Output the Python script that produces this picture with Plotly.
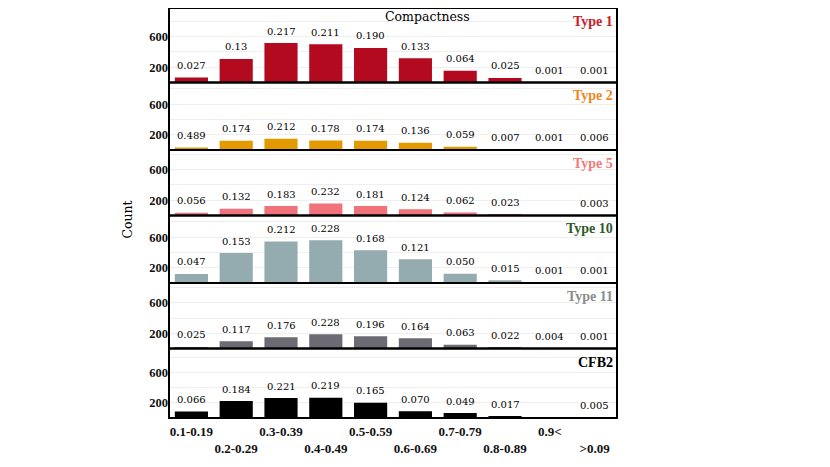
import plotly.graph_objects as go
from plotly.subplots import make_subplots

# compactness bins (ranges as printed on the chart)
bins = ["0.1-0.19", "0.2-0.29", "0.3-0.39", "0.4-0.49", "0.5-0.59",
        "0.6-0.69", "0.7-0.79", "0.8-0.89", "0.9&lt;", "&gt;0.09"]

types = ["Type 1", "Type 2", "Type 5", "Type 10", "Type 11", "CFB2"]

# counts
type1_counts = [64, 309, 516, 502, 452, 316, 152, 59, 2, 2]
type2_counts = [33, 121, 147, 123, 121, 94, 41, 5, 1, 4]
type5_counts = [36, 88, 124, 157, 123, 82, 40, 15, 0, 2]
type10_counts = [118, 392, 545, 560, 430, 310, 122, 36, 2, 2]
type11_counts = [20, 95, 147, 188, 162, 135, 50, 17, 3, 1]
cfb2_counts = [85, 222, 262, 264, 200, 90, 65, 25, 0, 6]

# fractions printed above the bars
type1_frac = ["0.027", "0.13", "0.217", "0.211", "0.190", "0.133", "0.064", "0.025", "0.001", "0.001"]
type2_frac = ["0.489", "0.174", "0.212", "0.178", "0.174", "0.136", "0.059", "0.007", "0.001", "0.006"]
type5_frac = ["0.056", "0.132", "0.183", "0.232", "0.181", "0.124", "0.062", "0.023", "", "0.003"]
type10_frac = ["0.047", "0.153", "0.212", "0.228", "0.168", "0.121", "0.050", "0.015", "0.001", "0.001"]
type11_frac = ["0.025", "0.117", "0.176", "0.228", "0.196", "0.164", "0.063", "0.022", "0.004", "0.001"]
cfb2_frac = ["0.066", "0.184", "0.221", "0.219", "0.165", "0.070", "0.049", "0.017", "", "0.005"]

counts = [type1_counts, type2_counts, type5_counts, type10_counts, type11_counts, cfb2_counts]
fracs = [type1_frac, type2_frac, type5_frac, type10_frac, type11_frac, cfb2_frac]

bar_colors = ["#b30a1f", "#e39a00", "#f0727a", "#94abb0", "#6c6b74", "#000000"]
label_colors = ["#c8202a", "#f0861c", "#f47a7a", "#2e5a2a", "#8c8c8c", "#000000"]

# panel heights in px (for matching the stacked look)
panel_px = [75, 68, 66, 68, 66, 70]
px_per_unit = 0.0768

fig = make_subplots(rows=6, cols=1, shared_xaxes=True, vertical_spacing=0,
                    row_heights=panel_px)

tick_text = [("<br><b>%s</b>" % b) if i % 2 else "<b>%s</b>" % b for i, b in enumerate(bins)]

for i in range(6):
    row = i + 1
    fig.add_trace(go.Bar(x=bins, y=counts[i], marker_color=bar_colors[i],
                         marker_line_width=0, showlegend=False),
                  row=row, col=1)
    yref = "y" if row == 1 else "y%d" % row
    xref = "x" if row == 1 else "x%d" % row
    for b, c, f in zip(bins, counts[i], fracs[i]):
        if f:
            fig.add_annotation(x=b, y=c, xref=xref, yref=yref, text=f,
                               showarrow=False, yanchor="middle", yshift=12,
                               font=dict(family="DejaVu Serif", size=10, color="black"))
    fig.add_annotation(x=0.995, y=1, xref=xref + " domain", yref=yref + " domain",
                       text="<b>%s</b>" % types[i], showarrow=False,
                       xanchor="right", yanchor="top", yshift=-4,
                       font=dict(family="Liberation Serif", size=14, color=label_colors[i]))
    # panel frame
    fig.add_shape(type="rect", xref=xref + " domain", yref=yref + " domain",
                  x0=0, x1=1, y0=0, y1=1, line=dict(color="black", width=2),
                  layer="above")
    fig.update_yaxes(range=[0, panel_px[i] / px_per_unit],
                     tickvals=[200, 400, 600, 800],
                     ticktext=["<b>200</b>", "", "<b>600</b>", ""],
                     showgrid=True, gridcolor="#efefef", gridwidth=1,
                     zeroline=False, showline=False, ticks="",
                     ticklabelstandoff=0,
                     tickfont=dict(family="Liberation Serif", size=12.5, color="#111"),
                     row=row, col=1)
    fig.update_xaxes(showline=False, showgrid=False, ticks="", row=row, col=1)

fig.update_xaxes(tickvals=bins, ticktext=tick_text, tickangle=0,
                 ticklabelstandoff=4,
                 tickfont=dict(family="Liberation Serif", size=13, color="#111"),
                 row=6, col=1)

fig.add_annotation(x=0.578, y=1, xref="paper", yref="paper", text="Compactness",
                   showarrow=False, xanchor="center", yanchor="middle", yshift=-8,
                   font=dict(family="DejaVu Serif", size=12.5, color="black"))
fig.add_annotation(x=-0.0915, y=0.484, xref="paper", yref="paper", text="Count",
                   textangle=-90, showarrow=False, xanchor="center", yanchor="middle",
                   font=dict(family="DejaVu Serif", size=12.5, color="black"))

# the page adds an 8px body margin, so the margins are set 8px smaller
fig.update_layout(width=830, height=467, bargap=0.26,
                  margin=dict(l=161, r=221, t=0, b=57),
                  plot_bgcolor="white", paper_bgcolor="white",
                  font=dict(family="DejaVu Serif"))

fig.write_html("out.html")
